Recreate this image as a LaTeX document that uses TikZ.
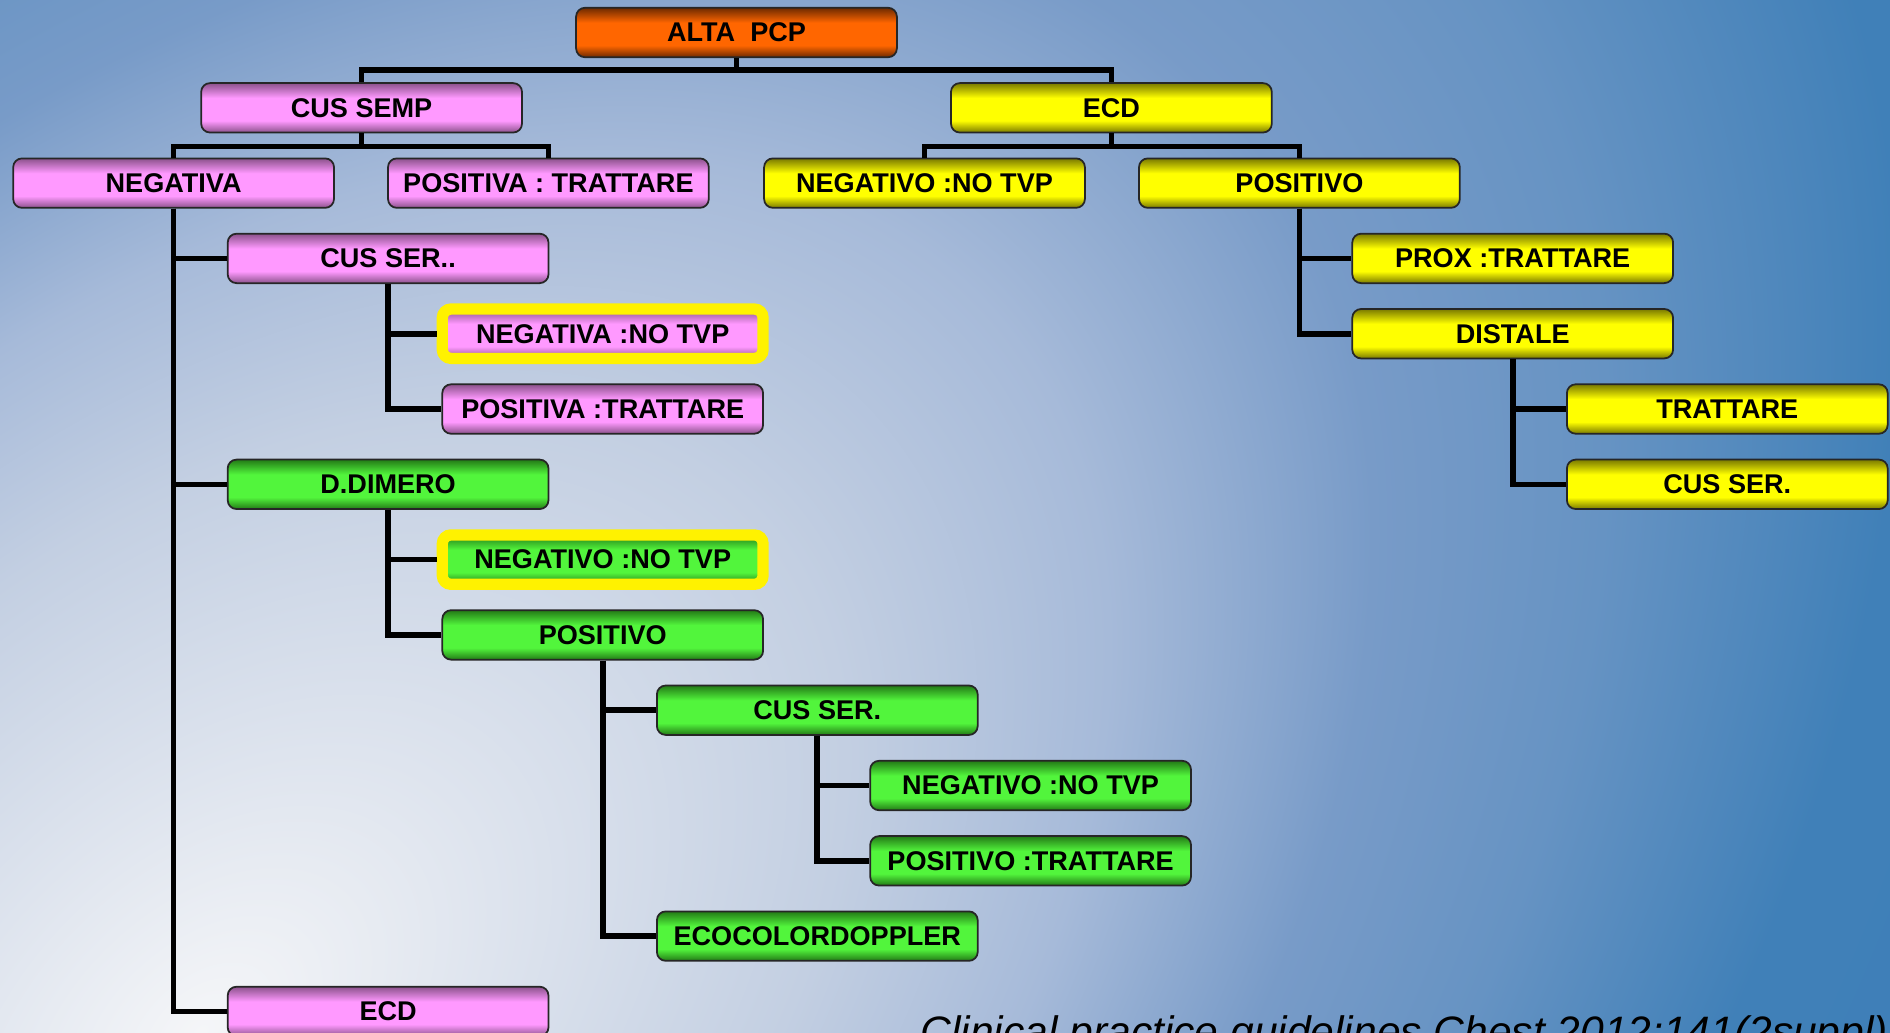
\documentclass[tikz,border=0pt]{standalone}
\usepackage{fontspec}
\setmainfont{Liberation Sans}
\definecolor{bg0}{HTML}{F5F6F8}
\definecolor{bg1}{HTML}{DEE4EE}
\definecolor{bg2}{HTML}{C3CFE2}
\definecolor{bg3}{HTML}{A6BAD9}
\definecolor{bg4}{HTML}{789BC8}
\definecolor{bg5}{HTML}{6693C3}
\definecolor{bg6}{HTML}{4080B8}
\definecolor{bg7}{HTML}{3A7BB5}
\definecolor{pkM}{HTML}{FF99FF}
\definecolor{pkD}{HTML}{8C528C}
\definecolor{ylM}{HTML}{FFFF00}
\definecolor{ylD}{HTML}{7A7A00}
\definecolor{grM}{HTML}{52F53C}
\definecolor{grD}{HTML}{237A16}
\definecolor{orM}{HTML}{FF6600}
\definecolor{orD}{HTML}{6E2A00}
\pgfdeclareradialshading{bgshade}{\pgfpoint{0bp}{0bp}}{color(0bp)=(bg0); color(5bp)=(bg1); color(11bp)=(bg2); color(15.5bp)=(bg3); color(20bp)=(bg4); color(24bp)=(bg5); color(29bp)=(bg6); color(50bp)=(bg7)}
\pgfdeclareverticalshading{pinkshade}{100bp}{color(0bp)=(pkD); color(25bp)=(pkD); color(37bp)=(pkM); color(60bp)=(pkM); color(75bp)=(pkD); color(100bp)=(pkD)}
\pgfdeclareverticalshading{yellowshade}{100bp}{color(0bp)=(ylD); color(25bp)=(ylD); color(37bp)=(ylM); color(60bp)=(ylM); color(75bp)=(ylD); color(100bp)=(ylD)}
\pgfdeclareverticalshading{greenshade}{100bp}{color(0bp)=(grD); color(25bp)=(grD); color(37bp)=(grM); color(60bp)=(grM); color(75bp)=(grD); color(100bp)=(grD)}
\pgfdeclareverticalshading{orangeshade}{100bp}{color(0bp)=(orD); color(25bp)=(orD); color(37bp)=(orM); color(60bp)=(orM); color(75bp)=(orD); color(100bp)=(orD)}
\tikzset{
  box/.style={rectangle, rounded corners=2.5pt, draw=black!85, line width=0.5pt,
    minimum width=3.206cm, minimum height=0.494cm, inner sep=0pt,
    font=\bfseries\fontsize{7.7}{9}\selectfont, text=black},
  pk/.style={box, shade, shading=pinkshade},
  yl/.style={box, shade, shading=yellowshade},
  gr/.style={box, shade, shading=greenshade},
  orb/.style={box, shade, shading=orangeshade},
  hl/.style={draw=yellow, line width=3.2pt},
  conn/.style={draw=black, line width=1.6pt}
}
\begin{document}
\begin{tikzpicture}[x=0.01cm, y=-0.01cm]
\useasboundingbox (0,0) rectangle (1890,1032);
\begin{scope}[x=1cm, y=1cm]
  \clip (0,0) rectangle (18.9,-10.32);
  \fill[bg6] (0,0) rectangle (18.9,-10.32);
  \begin{scope}[shift={(2.0,-10.32)}, rotate=42.5, xscale=19.56, yscale=12.19]
    \pgflowlevelsynccm
    \pgfuseshading{bgshade}
  \end{scope}
\end{scope}

\node[orb] (alta) at (736.5,32.5) {ALTA\ \ PCP};
\node[pk] (cussemp) at (361.6,107.8) {CUS SEMP};
\node[yl] (ecd1) at (1111.4,107.8) {ECD};
\node[pk] (neg1) at (173.6,183.1) {NEGATIVA};
\node[pk] (pos1) at (548.4,183.1) {POSITIVA : TRATTARE};
\node[yl] (neg2) at (924.5,183.1) {NEGATIVO :NO TVP};
\node[yl] (pos2) at (1299.4,183.1) {POSITIVO};
\node[pk] (cusser1) at (388.1,258.4) {CUS SER..};
\node[yl] (prox) at (1512.7,258.4) {PROX :TRATTARE};
\node[pk,hl] (negA) at (602.7,333.7) {NEGATIVA :NO TVP};
\node[yl] (distale) at (1512.7,333.7) {DISTALE};
\node[pk] (posA) at (602.7,409.0) {POSITIVA :TRATTARE};
\node[yl] (tratt) at (1727.3,409.0) {TRATTARE};
\node[gr] (ddim) at (388.1,484.3) {D.DIMERO};
\node[yl] (cusser3) at (1727.3,484.3) {CUS SER.};
\node[gr,hl] (negB) at (602.7,559.6) {NEGATIVO :NO TVP};
\node[gr] (posB) at (602.7,634.9) {POSITIVO};
\node[gr] (cusser2) at (817.3,710.2) {CUS SER.};
\node[gr] (negC) at (1030.6,785.5) {NEGATIVO :NO TVP};
\node[gr] (posC) at (1030.6,860.8) {POSITIVO :TRATTARE};
\node[gr] (ecocol) at (817.3,936.1) {ECOCOLORDOPPLER};
\node[pk] (ecd2) at (388.1,1011.4) {ECD};

\draw[conn] (alta.south) -- +(0,12) -| (cussemp.north);
\draw[conn] (alta.south) -- +(0,12) -| (ecd1.north);
\draw[conn] (cussemp.south) -- +(0,13) -| (neg1.north);
\draw[conn] (cussemp.south) -- +(0,13) -| (pos1.north);
\draw[conn] (ecd1.south) -- +(0,13) -| (neg2.north);
\draw[conn] (ecd1.south) -- +(0,13) -| (pos2.north);
\draw[conn] (neg1.south) |- (cusser1.west);
\draw[conn] (neg1.south) |- (ddim.west);
\draw[conn] (neg1.south) |- (ecd2.west);
\draw[conn] (cusser1.south) |- (negA.west);
\draw[conn] (cusser1.south) |- (posA.west);
\draw[conn] (ddim.south) |- (negB.west);
\draw[conn] (ddim.south) |- (posB.west);
\draw[conn] (posB.south) |- (cusser2.west);
\draw[conn] (posB.south) |- (ecocol.west);
\draw[conn] (cusser2.south) |- (negC.west);
\draw[conn] (cusser2.south) |- (posC.west);
\draw[conn] (pos2.south) |- (prox.west);
\draw[conn] (pos2.south) |- (distale.west);
\draw[conn] (distale.south) |- (tratt.west);
\draw[conn] (distale.south) |- (cusser3.west);

\node[anchor=base west, inner sep=0pt, font=\itshape\fontsize{12.1}{14}\selectfont, text=black] (cite) at (920,1046) {Clinical practice guidelines Chest 2012;141(2suppl)};
\end{tikzpicture}
\end{document}
